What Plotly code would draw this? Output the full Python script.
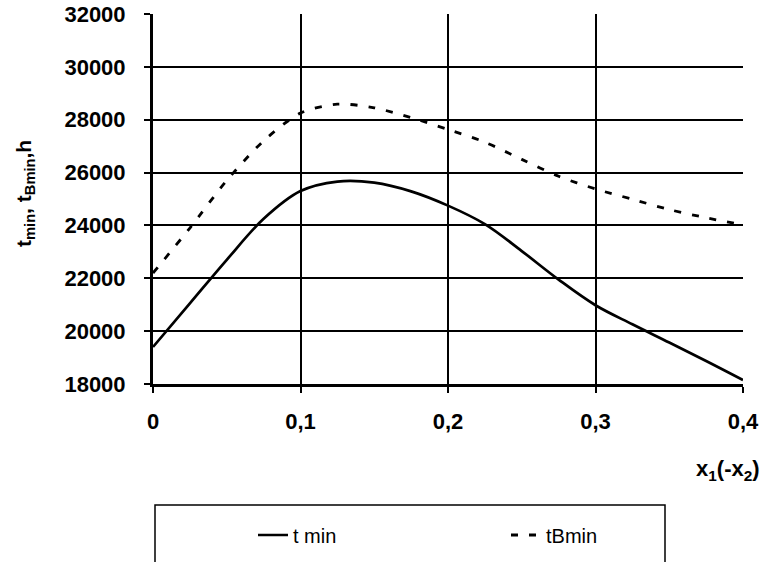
import plotly.graph_objects as go

# ---- data ----
x_vals = [0, 0.025, 0.05, 0.075, 0.1, 0.125, 0.15, 0.175, 0.2,
          0.225, 0.25, 0.275, 0.3, 0.325, 0.35, 0.375, 0.4]
t_min = [19400, 21050, 22700, 24250, 25300, 25660, 25620, 25290, 24750,
         24050, 23030, 21950, 20980, 20260, 19570, 18870, 18150]
t_bmin = [22200, 23900, 25700, 27200, 28250, 28590, 28450, 28080, 27630,
          27150, 26500, 25860, 25380, 24990, 24600, 24290, 24020]

x_tickvals = [0, 0.1, 0.2, 0.3, 0.4]
x_ticktext = ["0", "0,1", "0,2", "0,3", "0,4"]
y_tickvals = [18000, 20000, 22000, 24000, 26000, 28000, 30000, 32000]

series_names = ["t min", "tBmin"]

FONT = "Liberation Sans, Arial, sans-serif"

W, H = 763, 562
ML, MR, MT, MB = 153, 20, 14, 178
PW, PH = W - ML - MR, H - MT - MB


def px2paper_x(px):
    return (px - ML) / PW


def px2paper_y(py):
    return (H - MB - py) / PH


fig = go.Figure()
fig.add_trace(go.Scatter(
    x=x_vals, y=t_min, mode="lines", name=series_names[0],
    line=dict(color="black", width=2.7, shape="spline", smoothing=1.0),
))
fig.add_trace(go.Scatter(
    x=x_vals, y=t_bmin, mode="lines", name=series_names[1],
    line=dict(color="black", width=2.8, dash="7px,11px", shape="spline", smoothing=0.8),
))

fig.update_layout(
    width=W, height=H,
    margin=dict(l=ML, r=MR, t=MT, b=MB, autoexpand=False),
    paper_bgcolor="white", plot_bgcolor="white",
    font=dict(family=FONT, color="black"),
    showlegend=True,
    legend=dict(
        orientation="h",
        xref="paper", yref="paper",
        x=px2paper_x(253), y=px2paper_y(535),
        xanchor="left", yanchor="middle",
        font=dict(family=FONT, size=20, color="black"),
        bgcolor="rgba(0,0,0,0)", borderwidth=0,
        entrywidth=208, entrywidthmode="pixels",
    ),
    xaxis=dict(
        range=[0, 0.4], tickvals=x_tickvals, ticktext=x_ticktext,
        showgrid=True, gridcolor="black", gridwidth=1.5,
        zeroline=False, showline=True, linecolor="black", linewidth=3,
        ticks="outside", ticklen=6, tickwidth=2, tickcolor="black",
        ticklabelstandoff=10,
        tickfont=dict(family=FONT, size=22, color="black", weight="bold"),
    ),
    yaxis=dict(
        range=[18000, 32000], tickvals=y_tickvals,
        tickformat="d",
        showgrid=True, gridcolor="black", gridwidth=1.5,
        zeroline=False, showline=True, linecolor="black", linewidth=3,
        ticks="outside", ticklen=6, tickwidth=2, tickcolor="black",
        ticklabelstandoff=14,
        tickfont=dict(family=FONT, size=22, color="black", weight="bold"),
    ),
    shapes=[
        dict(type="rect", xref="paper", yref="paper",
             x0=px2paper_x(155), x1=px2paper_x(665),
             y0=px2paper_y(505), y1=px2paper_y(620),
             line=dict(color="black", width=1.5), fillcolor="rgba(0,0,0,0)",
             layer="above"),
    ],
    annotations=[
        dict(text="t<sub>min</sub>, t<sub>Bmin</sub>,h", textangle=-90,
             xref="paper", yref="paper",
             x=px2paper_x(25), y=px2paper_y(194),
             xanchor="center", yanchor="middle", showarrow=False,
             font=dict(family=FONT, size=21, color="black", weight="bold")),
        dict(text="x<sub>1</sub>(-x<sub>2</sub>)",
             xref="paper", yref="paper",
             x=px2paper_x(762), y=px2paper_y(470),
             xanchor="right", yanchor="middle", showarrow=False,
             font=dict(family=FONT, size=22, color="black", weight="bold")),
    ],
)

fig.write_html("out.html")
